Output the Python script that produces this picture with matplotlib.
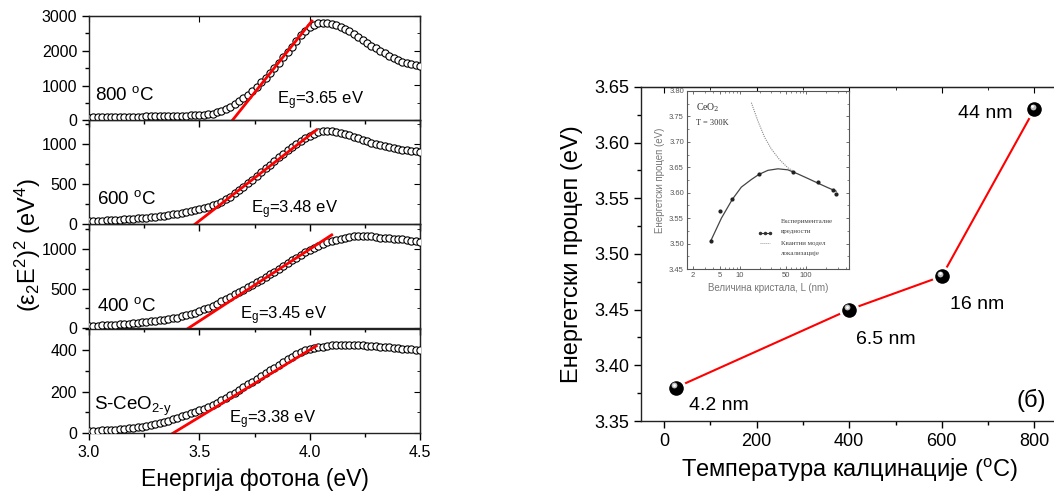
import numpy as np
import matplotlib
matplotlib.use("Agg")
import matplotlib.pyplot as plt
from matplotlib.ticker import MultipleLocator, FixedLocator, NullFormatter, NullLocator
import matplotlib.transforms as mtransforms

plt.rcParams['font.family'] = ['Liberation Sans', 'DejaVu Sans']
plt.rcParams['mathtext.fontset'] = 'custom'
plt.rcParams['mathtext.rm'] = 'Liberation Sans'
plt.rcParams['mathtext.it'] = 'Liberation Sans:italic'
plt.rcParams['mathtext.bf'] = 'Liberation Sans:bold'

# ---------------- data: left panels ----------------
energy = np.round(np.arange(3.00, 4.5001, 0.02), 2)

y_800 = [78, 80, 82, 84, 86, 88, 90, 92, 94, 96,
         99, 102, 105, 108, 111, 114, 117, 119, 121, 123,
         125, 129, 133, 138, 144, 151, 160, 172, 190, 225,
         280, 330, 395, 465, 545, 635, 735, 850, 970, 1100,
         1230, 1370, 1510, 1660, 1810, 1960, 2120, 2290, 2450, 2580,
         2680, 2750, 2785, 2800, 2800, 2780, 2740, 2690, 2630, 2560,
         2480, 2400, 2310, 2230, 2150, 2070, 2000, 1930, 1860, 1800,
         1740, 1690, 1650, 1610, 1580, 1550]
y_600 = [37, 39, 41, 44, 47, 50, 53, 56, 60, 64,
         68, 72, 77, 82, 88, 94, 100, 107, 115, 123,
         132, 142, 152, 163, 175, 188, 202, 218, 236, 256,
         280, 310, 345, 385, 428, 470, 512, 555, 600, 648,
         700, 745, 790, 835, 878, 920, 960, 1000, 1040, 1075,
         1105, 1130, 1150, 1162, 1166, 1162, 1152, 1140, 1125, 1108,
         1090, 1070, 1050, 1032, 1015, 1000, 987, 974, 962, 950,
         940, 930, 922, 915, 910, 905]
y_400 = [29, 31, 33, 36, 39, 42, 45, 48, 52, 57,
         62, 67, 73, 79, 86, 93, 101, 107, 114, 124,
         135, 148, 162, 178, 196, 216, 238, 260, 284, 310,
         337, 365, 395, 425, 455, 485, 515, 546, 578, 610,
         643, 677, 712, 748, 785, 820, 855, 890, 922, 955,
         987, 1013, 1038, 1060, 1080, 1098, 1112, 1126, 1138, 1148,
         1155, 1160, 1162, 1160, 1155, 1148, 1141, 1136, 1131, 1128,
         1124, 1118, 1110, 1102, 1095, 1088]
y_s = [11, 12, 13, 14, 15, 16, 17, 19, 21, 23,
       25, 28, 31, 35, 39, 44, 49, 55, 61, 68,
       75, 82, 89, 96, 103, 110, 118, 127, 137, 147,
       158, 170, 182, 195, 208, 221, 234, 247, 260, 273,
       287, 301, 315, 329, 343, 356, 368, 379, 389, 397,
       404, 409, 413, 416, 419, 421, 422, 423, 423, 423,
       423, 422, 421, 420, 418, 417, 415, 414, 412, 410,
       408, 406, 404, 402, 400, 398]

panel_labels = ['800 $\\mathregular{^o}$C', '600 $\\mathregular{^o}$C',
                '400 $\\mathregular{^o}$C', 'S-CeO$\\mathregular{_{2\u2010y}}$']
eg_values = [3.65, 3.48, 3.45, 3.38]
fit_end_x = [4.01, 4.03, 4.10, 4.03]
fit_end_y = [2856, 1175, 1175, 419]
ylims = [(0, 3000), (0, 1300), (0, 1312), (0, 500)]
ymajor = [1000, 500, 500, 200]
yminor = [500, 250, 250, 100]
label_pos = [(3.025, 577), (3.035, 250), (3.035, 216), (3.024, 111)]
eg_pos = [(3.85, 460), (3.736, 141), (3.686, 112), (3.635, 50)]

# ---------------- data: right panel ----------------
temperature = [25, 400, 600, 800]
band_gap = [3.38, 3.45, 3.48, 3.63]
size_labels = ['4.2 nm', '6.5 nm', '16 nm', '44 nm']
size_label_pos = [(54, 3.3598, 'left'), (415, 3.419, 'left'),
                  (617, 3.4505, 'left'), (753, 3.6225, 'right')]

# ---------------- data: inset ----------------
inset_L_pts = [3.7, 5.0, 7.8, 19.5, 63, 153, 251, 283]
inset_E_pts = [3.505, 3.564, 3.587, 3.637, 3.641, 3.621, 3.605, 3.598]
inset_L_fit = [3.67, 5.32, 7.76, 10.6, 15.0, 19.5, 26.6, 37.6, 53, 74.8, 106, 149, 211, 282]
inset_E_fit = [3.505, 3.550, 3.587, 3.611, 3.626, 3.636, 3.644, 3.647, 3.645, 3.637,
               3.628, 3.619, 3.610, 3.603]
inset_L_model = [15.0, 18.8, 23.7, 29.9, 39.8, 53, 66.8]
inset_E_model = [3.777, 3.741, 3.709, 3.686, 3.665, 3.649, 3.641]

# ---------------- figure ----------------
W, H = 1054, 492
fig = plt.figure(figsize=(W / 100, H / 100), dpi=100)


def fx(px):
    return px / W


def fy(py):
    return 1 - py / H


series = [y_800, y_600, y_400, y_s]
panel_tops = [16, 120, 224, 329]
panel_h = 104.25
left_x0, left_x1 = 89, 420

axes_left = []
for i in range(4):
    top = panel_tops[i]
    ax = fig.add_axes([fx(left_x0), fy(top + panel_h), fx(left_x1 - left_x0), panel_h / H])
    ax.set_facecolor('none')
    axes_left.append(ax)

for i, ax in enumerate(axes_left):
    ax.plot(energy, series[i], linestyle='none', marker='o', ms=5.2,
            mfc='white', mec='black', mew=0.8, zorder=3)
    ax.plot([eg_values[i], fit_end_x[i]], [0, fit_end_y[i]], color='#ff0000', lw=2, zorder=4)
    ax.set_xlim(3.0, 4.5)
    ax.set_ylim(*ylims[i])
    ax.xaxis.set_major_locator(MultipleLocator(0.5))
    ax.xaxis.set_minor_locator(MultipleLocator(0.25))
    ax.yaxis.set_major_locator(MultipleLocator(ymajor[i]))
    ax.yaxis.set_minor_locator(MultipleLocator(yminor[i]))
    ax.tick_params(axis='both', which='major', direction='out', length=5, width=1,
                   labelsize=11.5, top=False, right=False)
    ax.tick_params(axis='both', which='minor', direction='out', length=3, width=1,
                   top=False, right=False)
    if i < 3:
        ax.tick_params(axis='x', which='both', labelbottom=False)
    for sp in ax.spines.values():
        sp.set_linewidth(1.0)
        sp.set_color('#222222')
    sec = ax.secondary_yaxis('right')
    sec.yaxis.set_major_locator(MultipleLocator(ymajor[i]))
    sec.yaxis.set_minor_locator(MultipleLocator(yminor[i]))
    sec.tick_params(which='major', direction='in', length=4, labelright=False)
    sec.tick_params(which='minor', direction='in', length=2.5)
    sec.spines['right'].set_color('#222222')
    ax.text(label_pos[i][0], label_pos[i][1], panel_labels[i], fontsize=13.5,
            ha='left', va='baseline')
    ax.text(eg_pos[i][0], eg_pos[i][1], 'E$\\mathregular{_g}$=%.2f eV' % eg_values[i],
            fontsize=12, ha='left', va='baseline')

topsec = axes_left[0].secondary_xaxis('top')
topsec.xaxis.set_major_locator(MultipleLocator(0.5))
topsec.xaxis.set_minor_locator(NullLocator())
topsec.tick_params(which='major', direction='in', length=4, labeltop=False)

axes_left[3].set_xlabel('Енергија фотона (eV)', fontsize=16.5, labelpad=6)
fig.text(fx(28), fy(245), '$\\mathregular{(ε_2E^2)^2}$ (eV$\\mathregular{^4}$)',
         rotation=90, ha='center', va='center', fontsize=17)

# ---------------- right panel ----------------
r_top, r_bot = 87, 421
axr = fig.add_axes([fx(641), fy(r_bot), fx(1057.5 - 641), (r_bot - r_top) / H])
axr.plot(temperature, band_gap, color='#ff0000', lw=1.5, zorder=2)
axr.plot(temperature, band_gap, linestyle='none', marker='o', ms=12.5,
         mfc='black', mec='white', mew=2.0, zorder=3)
hl = mtransforms.offset_copy(axr.transData, fig=fig, x=-1.8, y=2.2, units='dots')
axr.plot(temperature, band_gap, linestyle='none', marker='o', ms=4.2,
         mfc='#bdbdbd', mec='none', transform=hl, zorder=4)
hl2 = mtransforms.offset_copy(axr.transData, fig=fig, x=-2.2, y=2.8, units='dots')
axr.plot(temperature, band_gap, linestyle='none', marker='o', ms=2.0,
         mfc='white', mec='none', transform=hl2, zorder=5)
axr.set_xlim(-50, 850)
axr.set_ylim(3.35, 3.65)
axr.xaxis.set_major_locator(MultipleLocator(200))
axr.xaxis.set_minor_locator(MultipleLocator(100))
axr.yaxis.set_major_locator(MultipleLocator(0.05))
axr.yaxis.set_minor_locator(MultipleLocator(0.025))
axr.yaxis.set_major_formatter(matplotlib.ticker.FormatStrFormatter('%.2f'))
axr.tick_params(axis='both', which='major', direction='out', length=5, width=1,
                labelsize=13, top=False, right=False)
axr.tick_params(axis='both', which='minor', direction='out', length=3, width=1,
                top=False, right=False)
axr.spines['right'].set_visible(False)
for sp in axr.spines.values():
    sp.set_linewidth(1.0)
    sp.set_color('#222222')
tsec = axr.secondary_xaxis('top')
tsec.xaxis.set_major_locator(MultipleLocator(200))
tsec.xaxis.set_minor_locator(MultipleLocator(100))
tsec.tick_params(which='major', direction='in', length=4, labeltop=False)
tsec.tick_params(which='minor', direction='in', length=2.5)
tsec.spines['top'].set_color('#222222')
axr.set_xlabel('Температура калцинације ($\\mathregular{^o}$C)', fontsize=17, labelpad=5)
axr.set_ylabel('Енергетски процеп (eV)', fontsize=17, labelpad=8)
for (x, y, ha), s in zip(size_label_pos, size_labels):
    axr.text(x, y, s, fontsize=14, ha=ha, va='baseline')
axr.text(825, 3.3688, '(б)', fontsize=17, ha='right', va='center')

# ---------------- inset ----------------
i_left, i_right, i_top, i_bot = 686.7, 849, 91, 269
axi = fig.add_axes([fx(i_left), fy(i_bot), fx(i_right - i_left), (i_bot - i_top) / H])
axi.set_xscale('log')
gray = '#555555'
axi.plot(inset_L_fit, inset_E_fit, color='#444444', lw=0.9)
axi.plot(inset_L_model, inset_E_model, color='#888888', lw=0.8, linestyle=(0, (1, 1)))
axi.plot(inset_L_pts, inset_E_pts, linestyle='none', marker='o', ms=2, color='#222222')
axi.set_xlim(1.6, 440)
axi.set_ylim(3.45, 3.80)
axi.xaxis.set_major_locator(FixedLocator([2, 5, 10, 50, 100, 500]))
axi.xaxis.set_major_formatter(matplotlib.ticker.FixedFormatter(['2', '5', '10', '50', '100', '500']))
axi.xaxis.set_minor_formatter(NullFormatter())
axi.yaxis.set_major_locator(MultipleLocator(0.05))
axi.yaxis.set_minor_locator(MultipleLocator(0.025))
axi.yaxis.set_major_formatter(matplotlib.ticker.FormatStrFormatter('%.2f'))
axi.tick_params(axis='both', which='major', direction='in', length=2.5, width=0.6,
                labelsize=5.5, labelcolor=gray, color=gray, top=True, right=True, pad=2)
axi.tick_params(axis='both', which='minor', direction='in', length=1.5, width=0.5,
                color=gray, top=True, right=True)
for sp in axi.spines.values():
    sp.set_linewidth(0.8)
    sp.set_color('#555555')
axi.set_xlabel('Величина кристала, L (nm)', fontsize=7, color='#777777', labelpad=3)
axi.set_ylabel('Енергетски процеп (eV)', fontsize=7, color='#777777', labelpad=3)
axi.text(0.06, 0.905, 'CeO$_2$', transform=axi.transAxes, fontsize=7,
         family='Liberation Serif', color='#333333', va='center', math_fontfamily='dejavuserif')
axi.text(0.06, 0.82, 'T = 300K', transform=axi.transAxes, fontsize=6,
         family='Liberation Serif', color='#333333', va='center')
axi.plot([0.45, 0.515], [0.204, 0.204], transform=axi.transAxes, color='#333333', lw=0.8,
         marker='o', ms=1.5, markevery=[0, 1])
axi.plot([0.483], [0.204], transform=axi.transAxes, color='#333333', marker='o', ms=1.5)
axi.plot([0.45, 0.515], [0.145, 0.145], transform=axi.transAxes, color='#999999', lw=0.7,
         linestyle=(0, (1, 1)))
axi.text(0.58, 0.265, 'Експерименталне', transform=axi.transAxes, fontsize=5,
         family='Liberation Serif', color='#444444', va='center')
axi.text(0.58, 0.210, 'вредности', transform=axi.transAxes, fontsize=5,
         family='Liberation Serif', color='#444444', va='center')
axi.text(0.58, 0.145, 'Квантни модел', transform=axi.transAxes, fontsize=5,
         family='Liberation Serif', color='#444444', va='center')
axi.text(0.58, 0.085, 'локализације', transform=axi.transAxes, fontsize=5,
         family='Liberation Serif', color='#444444', va='center')

fig.savefig('out.png', dpi=100)
